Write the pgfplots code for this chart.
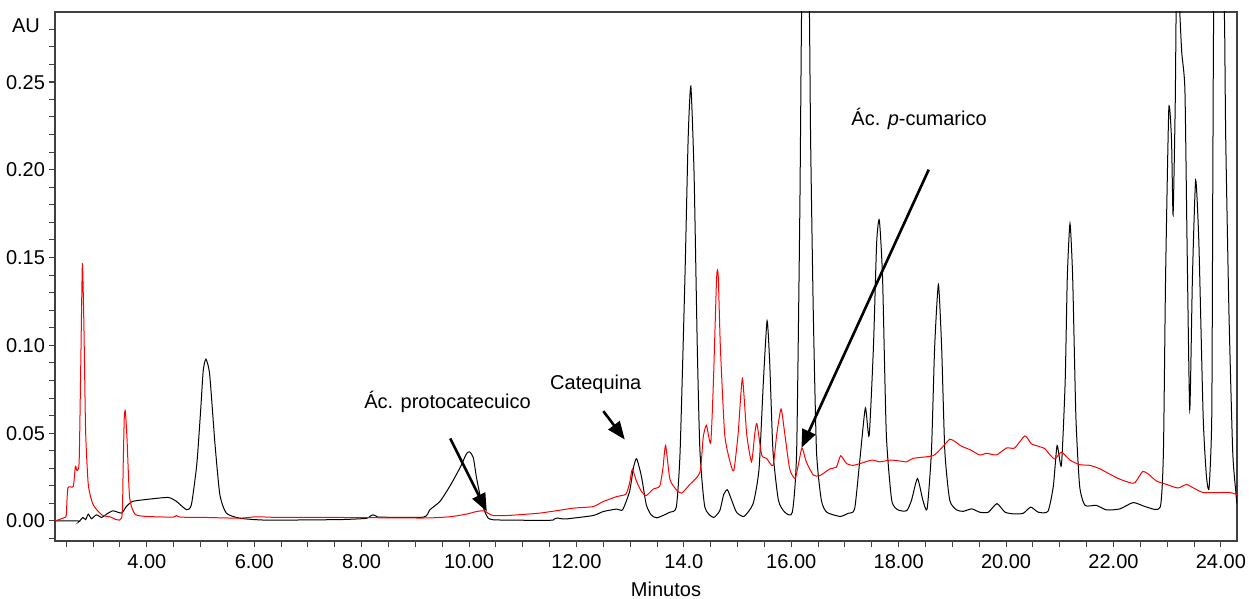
\documentclass[border=0pt]{standalone}
\usepackage{fontspec}
\setmainfont{Liberation Sans}
\usepackage{pgfplots}
\pgfplotsset{compat=1.18}
\usetikzlibrary{arrows.meta}

\begin{document}
\begin{tikzpicture}[font=\fontsize{10}{12}\selectfont]
\path[use as bounding box] (-27.5pt,-29pt) rectangle (597pt,270.5pt);
\begin{axis}[
  at={(0,0)}, anchor=south west,
  scale only axis, width=591pt, height=264.5pt,
  xmin=2.29, xmax=24.30, ymin=-0.0114, ymax=0.29,
  axis line style={black!75, line width=0.6pt},
  xtick={4,6,...,24},
  xticklabels={4.00,6.00,8.00,10.00,12.00,14.0,16.00,18.00,20.00,22.00,24.00},
  minor xtick={2.5,3,...,24},
  ytick={0,0.05,0.1,0.15,0.2,0.25},
  yticklabels={0.00,0.05,0.10,0.15,0.20,0.25},
  minor ytick={-0.01,0.01,0.02,...,0.29},
  yticklabel style={xshift=1.5pt},
  tick align=outside, tick pos=left,
  major tick length=3pt, minor tick length=3pt,
  tick style={black!75, line width=0.5pt},
  xlabel={Minutos},
  xlabel style={xshift=10pt},
  clip mode=individual,
  every axis plot/.append style={line width=0.5pt, smooth, tension=0.35},
]
% black trace
\addplot[black] coordinates {
(2.29,0) (2.72,0) (2.74,-0.0003) (2.81,0.002) (2.86,0.0008) (2.91,0.0039) (2.97,0.0013)
(3.06,0.0035) (3.16,0.002) (3.25,0.0039) (3.37,0.0058) (3.53,0.0045) (3.62,0.0083)
(3.74,0.0112) (4.06,0.0125) (4.40,0.0134) (4.55,0.0112) (4.74,0.0064) (4.83,0.0093)
(4.93,0.0321) (5.00,0.062) (5.05,0.0856) (5.10,0.0922) (5.17,0.0835) (5.27,0.0435)
(5.36,0.015) (5.48,0.0045) (5.73,0.0016) (6.23,0.0005) (7.59,0.0008) (8.09,0.0015)
(8.16,0.0028) (8.21,0.0035) (8.27,0.0028) (8.34,0.0022) (9.15,0.0022) (9.27,0.0064)
(9.46,0.0112) (9.64,0.0197) (9.83,0.0302) (9.95,0.0382) (10.01,0.0394) (10.08,0.0360)
(10.14,0.0245) (10.23,0.0112) (10.32,0.0035) (10.45,0.0007) (11.50,0.0004) (11.58,0.0010)
(11.64,0.0017) (11.72,0.0013) (11.82,0.0012) (12.31,0.0031) (12.50,0.0054) (12.75,0.0068) (12.86,0.0064)
(12.99,0.0169) (13.06,0.0302) (13.12,0.0355) (13.21,0.0254) (13.30,0.0093) (13.39,0.0035)
(13.50,0.0018) (13.74,0.005) (13.86,0.008) (13.93,0.0396) (14.02,0.1387) (14.08,0.218)
(14.13,0.2477) (14.19,0.198) (14.25,0.099) (14.30,0.0396) (14.39,0.008) (14.55,0.002)
(14.67,0.006) (14.74,0.0149) (14.81,0.0178) (14.89,0.0119) (14.98,0.005) (15.12,0.0026)
(15.29,0.0099) (15.40,0.0297) (15.48,0.079) (15.55,0.114) (15.60,0.089) (15.66,0.0396)
(15.76,0.0119) (15.88,0.005) (16.02,0.005) (16.10,0.0396) (16.16,0.178) (16.20,0.31)
(16.27,0.34) (16.33,0.31) (16.36,0.218) (16.41,0.119) (16.47,0.0396) (16.56,0.0119)
(16.66,0.005) (16.91,0.0026) (17.06,0.0044) (17.18,0.0069) (17.28,0.0357) (17.38,0.0644)
(17.45,0.0485) (17.53,0.099) (17.59,0.1585) (17.64,0.1714) (17.70,0.1387) (17.77,0.0495)
(17.87,0.0119) (17.99,0.0063) (18.15,0.0059) (18.24,0.0119) (18.35,0.0242) (18.45,0.0119)
(18.53,0.0069) (18.61,0.0396) (18.67,0.099) (18.74,0.1347) (18.80,0.099) (18.86,0.0396)
(18.95,0.0119) (19.08,0.0063) (19.20,0.0055) (19.36,0.0069) (19.51,0.005) (19.67,0.005)
(19.83,0.0099) (19.98,0.005) (20.16,0.004) (20.32,0.0044) (20.46,0.0079) (20.60,0.005)
(20.78,0.0055) (20.88,0.0198) (20.95,0.043) (21.03,0.0317) (21.10,0.079) (21.14,0.1387)
(21.19,0.1694) (21.24,0.1387) (21.30,0.0594) (21.37,0.0198) (21.47,0.0089) (21.68,0.0089)
(21.87,0.0063) (22.12,0.0069) (22.37,0.0105) (22.62,0.0079) (22.87,0.0079) (22.93,0.0396)
(22.97,0.1387) (23.03,0.2348) (23.08,0.218) (23.11,0.1744) (23.15,0.238) (23.17,0.30)
(23.20,0.32) (23.22,0.30) (23.27,0.2675) (23.33,0.2457) (23.37,0.1585) (23.42,0.0634)
(23.47,0.1387) (23.53,0.1942) (23.59,0.1585) (23.67,0.0594) (23.73,0.0258) (23.78,0.0188)
(23.83,0.0594) (23.85,0.198) (23.87,0.30) (23.95,0.33) (24.05,0.30) (24.07,0.28)
(24.09,0.218) (24.15,0.119) (24.22,0.0396) (24.28,0.0159) (24.30,0.0099)
};
% red trace
\addplot[red] coordinates {
(2.29,0) (2.47,0.002) (2.50,0.0035) (2.53,0.0188) (2.63,0.0197) (2.67,0.0312) (2.70,0.0287)
(2.74,0.034) (2.77,0.0893) (2.80,0.1465) (2.83,0.1084) (2.86,0.0513) (2.91,0.0207)
(3.00,0.0093) (3.16,0.0035) (3.31,0.0024) (3.53,0.0016) (3.56,0.0322) (3.58,0.0589)
(3.60,0.0627) (3.63,0.0475) (3.68,0.0131) (3.78,0.0039) (3.99,0.0026) (4.49,0.0022)
(4.55,0.0032) (4.62,0.0022) (5.11,0.002) (5.73,0.0016) (6.04,0.0024) (6.48,0.002)
(7.59,0.002) (9.15,0.0017) (9.64,0.0024) (9.95,0.0039) (10.14,0.0054) (10.28,0.0058)
(10.36,0.0043) (10.45,0.0031) (10.70,0.0031) (11.32,0.0045) (11.94,0.0073) (12.31,0.0082)
(12.50,0.0111) (12.75,0.0139) (12.92,0.0153) (12.99,0.0216) (13.04,0.0295) (13.12,0.0225)
(13.21,0.0168) (13.30,0.0145) (13.43,0.0182) (13.55,0.0198) (13.61,0.030) (13.66,0.043)
(13.74,0.0238) (13.86,0.0178) (13.96,0.0159) (14.11,0.0208) (14.30,0.0277) (14.36,0.0476)
(14.42,0.0545) (14.50,0.0446) (14.55,0.079) (14.61,0.1387) (14.64,0.1397) (14.68,0.099)
(14.76,0.0495) (14.86,0.0337) (14.93,0.0287) (15.01,0.0495) (15.09,0.0812) (15.17,0.0495)
(15.26,0.0337) (15.32,0.0495) (15.36,0.0555) (15.45,0.0376) (15.54,0.0357) (15.66,0.0317)
(15.73,0.0495) (15.81,0.0638) (15.88,0.0495) (15.97,0.0297) (16.07,0.0242) (16.13,0.0317)
(16.20,0.0416) (16.28,0.0337) (16.41,0.0262) (16.53,0.0258) (16.72,0.0297) (16.84,0.0307)
(16.92,0.0372) (17.03,0.0327) (17.15,0.0317) (17.28,0.0327) (17.50,0.0347) (17.65,0.0337)
(17.84,0.0347) (18.02,0.0342) (18.15,0.0337) (18.27,0.0357) (18.64,0.0372) (18.80,0.0416)
(18.95,0.0466) (19.05,0.0452) (19.17,0.0426) (19.33,0.0406) (19.51,0.0376) (19.64,0.0386)
(19.82,0.0376) (20.01,0.0416) (20.16,0.0416) (20.35,0.0485) (20.47,0.044) (20.60,0.0426)
(20.72,0.0412) (20.82,0.0376) (20.91,0.0353) (21.03,0.0392) (21.19,0.0347) (21.37,0.0321)
(21.56,0.0317) (21.75,0.0297) (21.93,0.0267) (22.12,0.0238) (22.31,0.0218) (22.40,0.0218)
(22.54,0.0281) (22.65,0.0267) (22.80,0.0228) (22.99,0.0208) (23.20,0.0188) (23.36,0.0208)
(23.49,0.0188) (23.67,0.0162) (23.92,0.0162) (24.17,0.0162) (24.30,0.015)
};
% annotations
\node at (axis cs:9.60,0.068) {Ác. protocatecuico};
\node at (axis cs:12.36,0.078) {Catequina};
\node at (axis cs:18.38,0.229) {Ác. \textit{p}-cumarico};
\draw[line width=1.3pt, -{Triangle[length=9pt,width=7pt]}] (axis cs:9.65,0.047) -- (axis cs:10.33,0.0054);
\draw[line width=1.3pt, -{Triangle[length=9pt,width=7pt]}] (axis cs:12.50,0.0626) -- (axis cs:12.90,0.0464);
\draw[line width=1.3pt, -{Triangle[length=9pt,width=7pt]}] (axis cs:18.56,0.2002) -- (axis cs:16.19,0.0417);
\end{axis}
\node at ([shift={(-14.5pt,-6.75pt)}]current axis.north west) {AU};
\end{tikzpicture}
\end{document}
